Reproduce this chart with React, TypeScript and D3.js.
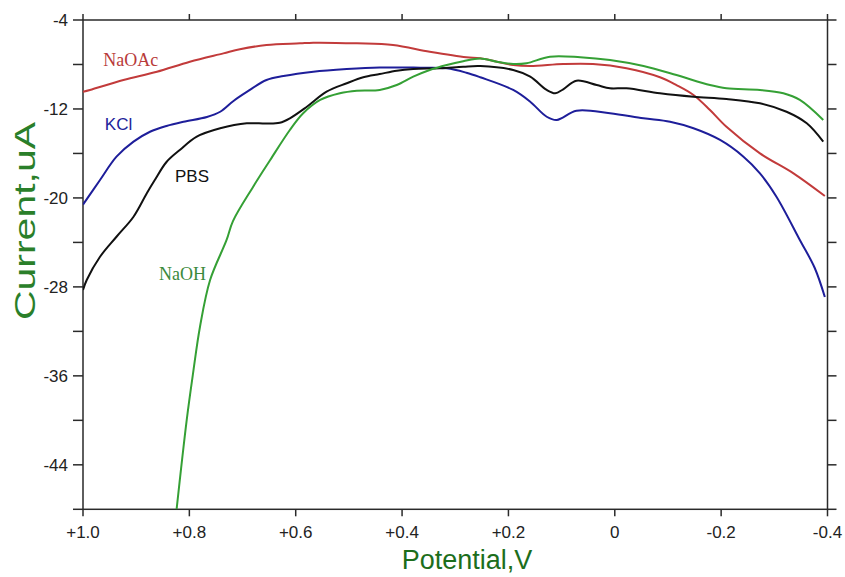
import React from "react";
import * as d3 from "d3";

type Pt = [number, number];

const naoac: Pt[] = [
  [1.0, -10.45], [0.987, -10.29], [0.924, -9.4], [0.861, -8.65], [0.799, -7.75], [0.736, -7.0],
  [0.705, -6.63], [0.655, -6.25], [0.592, -6.1], [0.567, -6.04], [0.485, -6.1], [0.417, -6.25],
  [0.348, -6.85], [0.279, -7.35], [0.253, -7.44], [0.191, -8.05], [0.159, -8.14], [0.097, -7.96],
  [0.041, -7.96], [-0.022, -8.34], [-0.085, -9.15], [-0.116, -9.85], [-0.148, -10.74],
  [-0.179, -12.09], [-0.21, -13.6], [-0.273, -15.99], [-0.336, -17.79], [-0.395, -19.83],
];

const kcl: Pt[] = [
  [1.0, -20.6], [0.968, -18.39], [0.937, -16.29], [0.905, -14.94], [0.874, -14.05], [0.843, -13.53],
  [0.811, -13.15], [0.767, -12.72], [0.742, -12.25], [0.717, -11.28], [0.692, -10.47], [0.655, -9.4],
  [0.623, -9.04], [0.567, -8.65], [0.504, -8.41], [0.442, -8.27], [0.366, -8.29], [0.316, -8.34],
  [0.279, -8.74], [0.253, -9.15], [0.191, -10.29], [0.159, -11.35], [0.128, -12.7], [0.109, -12.99],
  [0.072, -12.16], [0.009, -12.39], [-0.054, -12.84], [-0.104, -13.15], [-0.148, -13.74],
  [-0.198, -14.79], [-0.242, -16.29], [-0.273, -17.79], [-0.304, -19.89], [-0.348, -23.78],
  [-0.376, -26.3], [-0.395, -28.91],
];

const pbs: Pt[] = [
  [1.0, -28.28], [0.993, -27.38], [0.968, -25.29], [0.937, -23.49], [0.905, -21.69], [0.88, -19.58],
  [0.865, -18.39], [0.843, -16.77], [0.818, -15.69], [0.786, -14.49], [0.742, -13.74], [0.692, -13.29],
  [0.655, -13.31], [0.63, -13.24], [0.611, -12.84], [0.579, -11.8], [0.542, -10.45], [0.504, -9.69],
  [0.473, -9.15], [0.442, -8.86], [0.41, -8.56], [0.379, -8.41], [0.329, -8.34], [0.285, -8.2],
  [0.253, -8.14], [0.191, -8.5], [0.159, -9.1], [0.128, -10.29], [0.112, -10.59], [0.097, -10.23],
  [0.072, -9.46], [0.034, -9.85], [0.009, -10.14], [-0.022, -10.14], [-0.085, -10.59],
  [-0.148, -10.9], [-0.21, -11.1], [-0.273, -11.49], [-0.323, -12.25], [-0.361, -13.29],
  [-0.392, -14.94],
];

const naoh: Pt[] = [
  [0.824, -48], [0.805, -39.97], [0.793, -35.75], [0.78, -31.58], [0.761, -27.38], [0.73, -23.78],
  [0.718, -22.08], [0.68, -18.99], [0.648, -16.59], [0.611, -13.89], [0.586, -12.39], [0.554, -11.19],
  [0.517, -10.59], [0.485, -10.36], [0.442, -10.29], [0.41, -9.85], [0.379, -9.1], [0.348, -8.5],
  [0.316, -8.05], [0.285, -7.71], [0.253, -7.46], [0.222, -7.75], [0.191, -7.96], [0.166, -7.89],
  [0.122, -7.3], [0.065, -7.35], [0.009, -7.6], [-0.054, -8.14], [-0.116, -8.95], [-0.179, -9.85],
  [-0.21, -10.14], [-0.273, -10.29], [-0.317, -10.59], [-0.348, -11.19], [-0.392, -12.99],
];

const xTickValues = [1.0, 0.8, 0.6, 0.4, 0.2, 0, -0.2, -0.4];
const xTickLabels = ["+1.0", "+0.8", "+0.6", "+0.4", "+0.2", "0", "-0.2", "-0.4"];
const yTickValues = [-48, -44, -40, -36, -32, -28, -24, -20, -16, -12, -8, -4];
const yTickLabels = [-44, -36, -28, -20, -12, -4];

const seriesNames = ["NaOAc", "KCl", "PBS", "NaOH"];
const seriesData = [naoac, kcl, pbs, naoh];
const seriesColors = ["#c23b3b", "#1e1e9a", "#111111", "#35a035"];
// label anchor (left, baseline) in data coords
const labelPos: Pt[] = [[0.962, -8.14], [0.959, -13.89], [0.827, -18.57], [0.857, -27.38]];
const labelFonts = ["Liberation Serif, serif", "Liberation Sans, Arial, sans-serif", "Liberation Sans, Arial, sans-serif", "Liberation Serif, serif"];
const labelColors = ["#b83a3a", "#22229a", "#111111", "#3b8a3b"];

export default function App() {
  const W = 845, H = 577;
  const left = 83, right = 827.5, top = 20, bottom = 509.3;
  const x = d3.scaleLinear().domain([1.0, -0.4]).range([left, right]);
  const y = d3.scaleLinear().domain([-48, -4]).range([bottom, top]);
  const line = d3.line<Pt>().x(d => x(d[0])).y(d => y(d[1])).curve(d3.curveCatmullRom.alpha(0.5));
  const axisColor = "#2a2a2a";
  const tickFont = "Liberation Sans, Arial, sans-serif";

  return (
    <svg width={W} height={H} style={{ position: "absolute", left: 0, top: 0, background: "#fff" }}>
      <defs>
        <clipPath id="plotclip">
          <rect x={left} y={top} width={right - left} height={bottom - top} />
        </clipPath>
      </defs>
      <rect x={0} y={0} width={W} height={H} fill="#fff" />
      <rect x={left} y={top} width={right - left} height={bottom - top} fill="none" stroke={axisColor} strokeWidth={1.5} />
      {yTickValues.map(v => (
        <g key={"yt" + v}>
          <line x1={left - 10} x2={left} y1={y(v)} y2={y(v)} stroke={axisColor} strokeWidth={1.5} />
          <line x1={right} x2={right + 9} y1={y(v)} y2={y(v)} stroke={axisColor} strokeWidth={1.5} />
        </g>
      ))}
      {yTickLabels.map(v => (
        <text key={"yl" + v} x={68} y={y(v)} dy="0.35em" textAnchor="end" fontFamily={tickFont} fontSize={17} fill="#222">
          {String(v)}
        </text>
      ))}
      {xTickValues.map((v, i) => (
        <g key={"xt" + i}>
          <line x1={x(v)} x2={x(v)} y1={bottom} y2={bottom + 7} stroke={axisColor} strokeWidth={1.5} />
          <line x1={x(v)} x2={x(v)} y1={top - 6} y2={top} stroke={axisColor} strokeWidth={1.5} />
          <text x={x(v)} y={538} textAnchor="middle" fontFamily={tickFont} fontSize={17} fill="#222">
            {xTickLabels[i]}
          </text>
        </g>
      ))}
      <g clipPath="url(#plotclip)">
        {seriesData.map((d, i) => (
          <path key={seriesNames[i]} d={line(d) || ""} fill="none" stroke={seriesColors[i]} strokeWidth={2} strokeLinejoin="round" />
        ))}
      </g>
      {seriesNames.map((n, i) => (
        <text key={"lab" + n} x={x(labelPos[i][0])} y={y(labelPos[i][1])} fontFamily={labelFonts[i]} fontSize={i === 0 || i === 3 ? 18 : 17} fill={labelColors[i]}>
          {n}
        </text>
      ))}
      <text x={467} y={569} textAnchor="middle" fontFamily={tickFont} fontSize={27} fill="#1c6e1c">
        Potential,V
      </text>
      <text
        transform={`translate(35, ${221}) rotate(-90)`}
        textAnchor="middle"
        fontFamily={tickFont}
        fontSize={29}
        fill="#2a7f2a"
        textLength={198}
        lengthAdjust="spacingAndGlyphs"
      >
        Current,uA
      </text>
    </svg>
  );
}
